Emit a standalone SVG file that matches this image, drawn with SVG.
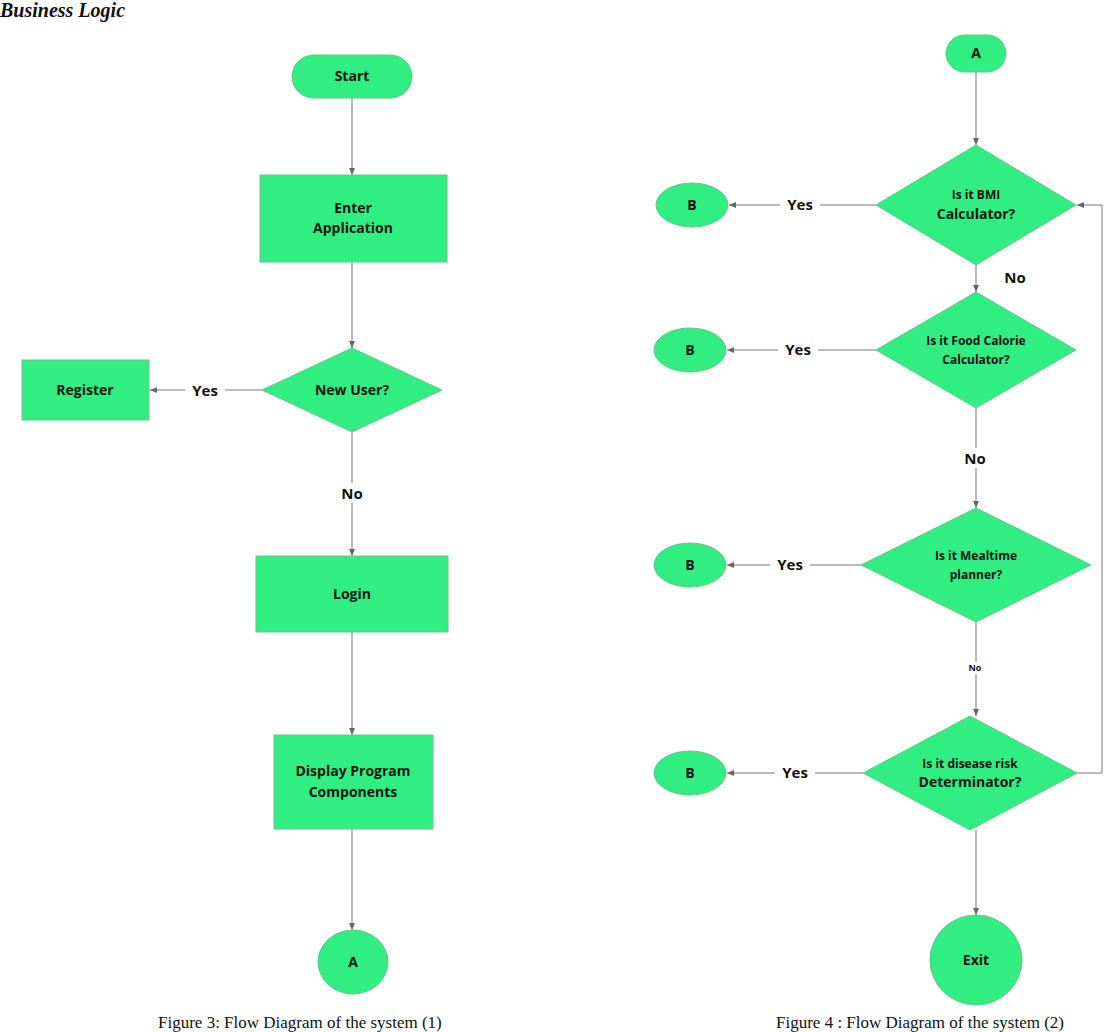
<svg xmlns="http://www.w3.org/2000/svg" width="1120" height="1032" viewBox="0 0 1120 1032">
<defs>
<style>
.n{fill:#30EE82;stroke:#6fbf8f;stroke-width:1}
.t{font-family:"Open Sans","Liberation Sans",sans-serif;font-weight:bold;font-size:14px;fill:#111;text-anchor:middle}
.l{font-family:"Open Sans","Liberation Sans",sans-serif;font-weight:bold;font-size:15px;fill:#111;text-anchor:middle}
.bg{fill:#fff}
.c{stroke:#777;stroke-width:1;fill:none;marker-end:url(#ah)}
.cap{font-family:"Liberation Serif",serif;font-size:17px;fill:#111}
</style>
<marker id="ah" markerWidth="8" markerHeight="8" refX="7" refY="4" orient="auto" markerUnits="userSpaceOnUse"><path d="M0,1 L7,4 L0,7 z" fill="#666"/></marker>
</defs>
<rect width="1120" height="1032" fill="#fff"/>
<text x="0" y="17" font-family="Liberation Serif,serif" font-style="italic" font-weight="bold" font-size="20" fill="#111">Business Logic</text>
<g id="connectors">
<path class="c" d="M352,98 V175"/>
<path class="c" d="M352,262 V348"/>
<path class="c" d="M262,390 H150"/>
<path class="c" d="M352,432 V556"/>
<path class="c" d="M352,632 V735"/>
<path class="c" d="M352,829 V930"/>
<path class="c" d="M976,72 V145"/>
<path class="c" d="M876,205 H729"/>
<path class="c" d="M976,265 V292"/>
<path class="c" d="M876,350 H727"/>
<path class="c" d="M976,408 V508"/>
<path class="c" d="M861,565 H727"/>
<path class="c" d="M976,622 V716"/>
<path class="c" d="M863,773 H727"/>
<path class="c" d="M976,830 V915"/>
<path class="c" d="M1077,773 H1102 V205 H1077"/>
<rect class="bg" x="185" y="380" width="40" height="20"/><text class="l" x="205" y="396">Yes</text>
<rect class="bg" x="337" y="483" width="30" height="20"/><text class="l" x="352" y="499">No</text>
<rect class="bg" x="780" y="195" width="40" height="20"/><text class="l" x="800" y="210">Yes</text>
<text class="l" x="1015" y="283">No</text>
<rect class="bg" x="778" y="340" width="40" height="20"/><text class="l" x="798" y="355">Yes</text>
<rect class="bg" x="960" y="448" width="30" height="20"/><text class="l" x="975" y="464">No</text>
<rect class="bg" x="770" y="555" width="40" height="20"/><text class="l" x="790" y="570">Yes</text>
<rect class="bg" x="966" y="662" width="18" height="12"/><text class="l" x="975" y="671" style="font-size:9px">No</text>
<rect class="bg" x="775" y="763" width="40" height="20"/><text class="l" x="795" y="778">Yes</text>
</g>
<g id="start"><rect class="n" x="292" y="55" width="120" height="43" rx="21.5"/><text class="t" x="352" y="81">Start</text></g>
<g id="enter"><rect class="n" x="260" y="175" width="187" height="87"/><text class="t" x="353" y="213">Enter</text><text class="t" x="353" y="233">Application</text></g>
<g id="newuser"><polygon class="n" points="352,348 442,390 352,432 262,390"/><text class="t" x="352" y="395">New User?</text></g>
<g id="register"><rect class="n" x="22" y="360" width="127" height="60"/><text class="t" x="85" y="395">Register</text></g>
<g id="login"><rect class="n" x="256" y="556" width="192" height="76"/><text class="t" x="352" y="599">Login</text></g>
<g id="display"><rect class="n" x="274" y="735" width="159" height="94"/><text class="t" x="353" y="776">Display Program</text><text class="t" x="353" y="797">Components</text></g>
<g id="a1"><ellipse class="n" cx="353" cy="962" rx="35" ry="32"/><text class="t" x="353" y="967">A</text></g>
<g id="a2"><rect class="n" x="946" y="35" width="60" height="37" rx="18.5"/><text class="t" x="976" y="58">A</text></g>
<g id="d1"><polygon class="n" points="976,145 1076,205 976,265 876,205"/><text class="t" x="976" y="199" style="font-size:12px">Is it BMI</text><text class="t" x="976" y="219">Calculator?</text></g>
<g id="d2"><polygon class="n" points="976,292 1076,350 976,408 876,350"/><text class="t" x="976" y="345" style="font-size:12px">Is it Food Calorie</text><text class="t" x="976" y="364" style="font-size:12px">Calculator?</text></g>
<g id="d3"><polygon class="n" points="976,508 1091,565 976,622 861,565"/><text class="t" x="976" y="560" style="font-size:12px">Is it Mealtime</text><text class="t" x="976" y="579" style="font-size:12px">planner?</text></g>
<g id="d4"><polygon class="n" points="970,716 1077,773 970,830 863,773"/><text class="t" x="970" y="768" style="font-size:12px">Is it disease risk</text><text class="t" x="970" y="787">Determinator?</text></g>
<g id="b1"><ellipse class="n" cx="692" cy="205" rx="36" ry="22"/><text class="t" x="692" y="210">B</text></g>
<g id="b2"><ellipse class="n" cx="690" cy="350" rx="36" ry="22"/><text class="t" x="690" y="355">B</text></g>
<g id="b3"><ellipse class="n" cx="690" cy="565" rx="36" ry="22"/><text class="t" x="690" y="570">B</text></g>
<g id="b4"><ellipse class="n" cx="690" cy="773" rx="36" ry="22"/><text class="t" x="690" y="778">B</text></g>
<g id="exit"><ellipse class="n" cx="976" cy="960" rx="46" ry="45"/><text class="t" x="976" y="965">Exit</text></g>
<text class="cap" x="158" y="1028">Figure 3: Flow Diagram of the system (1)</text>
<text class="cap" x="776" y="1028">Figure 4 : Flow Diagram of the system (2)</text>
</svg>
